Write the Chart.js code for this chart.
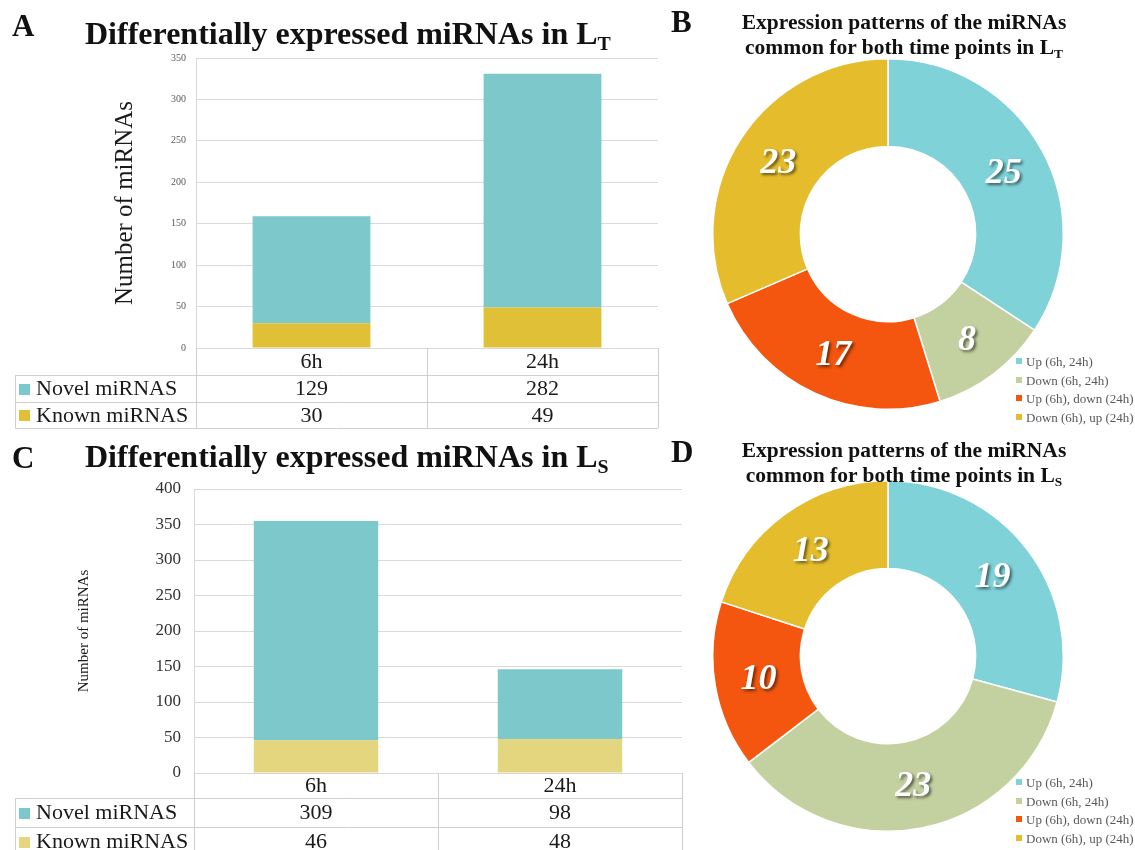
<!DOCTYPE html>
<html>
<head>
<meta charset="utf-8">
<script src="https://cdn.jsdelivr.net/npm/chart.js@4.4.1/dist/chart.umd.min.js"></script>
<style>
  body { margin: 0; background: #fff; width: 1135px; height: 850px; overflow: hidden; position: relative;
         font-family: "Liberation Serif", "Times New Roman", serif; color: #111; }
  .abs { position: absolute; z-index: 2; }
  .letter { font-weight: bold; font-size: 31px; line-height: 30px; }
  .btitle { font-weight: bold; font-size: 32px; line-height: 30px; white-space: nowrap; }
  .ptitle { font-weight: bold; font-size: 21.5px; line-height: 25px; text-align: center; white-space: nowrap; width: 400px; }
  sub { font-size: 0.62em; vertical-align: -0.28em; line-height: 0; }
  .legend { font-size: 13px; color: #595959; line-height: 18.5px; white-space: nowrap; }
  .legend .m { display: inline-block; width: 6px; height: 6px; margin-right: 4px; position: relative; top: -2px; }
  canvas { position: absolute; z-index: 1; }
</style>
</head>
<body>
<div class="abs letter" style="left:12px;top:11px">A</div>
<div class="abs btitle" style="left:85px;top:18px">Differentially expressed miRNAs in L<sub>T</sub></div>
<div class="abs letter" style="left:12px;top:443px">C</div>
<div class="abs btitle" style="left:85px;top:441px">Differentially expressed miRNAs in L<sub>S</sub></div>
<div class="abs letter" style="left:671px;top:7px">B</div>
<div class="abs ptitle" style="left:704px;top:10px">Expression patterns of the miRNAs<br>common for both time points in L<sub>T</sub></div>
<div class="abs letter" style="left:671px;top:437px">D</div>
<div class="abs ptitle" style="left:704px;top:438px">Expression patterns of the miRNAs<br>common for both time points in L<sub>S</sub></div>

<canvas id="barLT" width="660" height="432" style="left:0;top:0"></canvas>
<canvas id="barLS" width="684" height="420" style="left:0;top:430px"></canvas>
<canvas id="pieLT" width="352" height="352" style="left:712px;top:58px"></canvas>
<canvas id="pieLS" width="352" height="352" style="left:712px;top:480px"></canvas>
<div id="legLT" class="abs legend" style="left:1016px;top:353px"></div>
<div id="legLS" class="abs legend" style="left:1016px;top:774px"></div>

<script>
// ---- data ----
const timePoints = ['6h', '24h'];
const seriesNames = ['Novel miRNAS', 'Known miRNAS'];
const novelLT = [129, 282];
const knownLT = [30, 49];
const novelLS = [309, 98];
const knownLS = [46, 48];
const axisLT = { max: 350, step: 50 };
const axisLS = { max: 400, step: 50 };
const patternLabels = ['Up (6h, 24h)', 'Down (6h, 24h)', 'Up (6h), down (24h)', 'Down (6h), up (24h)'];
const patternsLT = [25, 8, 17, 23];
const patternsLS = [19, 23, 10, 13];

// ---- colours ----
const novelColor = '#7dc8ca';
const knownColorLT = '#e0c036';
const knownColorLS = '#e3d67e';
const patternColors = ['#7ed2d8', '#c3d0a0', '#f4560f', '#e5bd2c'];
const gridColor = '#d9d9d9';
const serif = '"Liberation Serif", "Times New Roman", serif';

Chart.defaults.animation = false;
Chart.defaults.devicePixelRatio = 1;

// Data table drawn under the x axis: header row with the categories,
// then one row per series with its colour key and values.
const dataTable = {
  id: 'dataTable',
  afterDraw(chart, args, o) {
    const ctx = chart.ctx;
    const a = chart.chartArea;
    const xs = chart.scales.x;
    const n = chart.data.labels.length;
    const catW = (a.right - a.left) / n;
    const y0 = a.bottom;
    const ys = [y0, y0 + o.headerH];
    o.rows.forEach(() => ys.push(ys[ys.length - 1] + o.rowH));
    const last = ys[ys.length - 1];
    const px = v => Math.round(v) + 0.5;

    ctx.save();
    ctx.strokeStyle = o.lineColor;
    ctx.lineWidth = 1;
    ctx.beginPath();
    for (let r = 1; r < ys.length; r++) {
      ctx.moveTo(o.left, px(ys[r])); ctx.lineTo(a.right, px(ys[r]));
    }
    for (let c = 0; c <= n; c++) {
      const x = px(a.left + c * catW);
      ctx.moveTo(x, y0); ctx.lineTo(x, last);
    }
    ctx.moveTo(px(o.left), ys[1]); ctx.lineTo(px(o.left), last);
    ctx.stroke();

    ctx.fillStyle = '#1a1a1a';
    ctx.font = o.fontSize + 'px ' + serif;
    ctx.textAlign = 'center';
    ctx.textBaseline = 'middle';
    chart.data.labels.forEach((lab, i) => {
      ctx.fillText(lab, xs.getPixelForValue(i), (ys[0] + ys[1]) / 2 + 1);
    });
    o.rows.forEach((row, r) => {
      const cy = (ys[r + 1] + ys[r + 2]) / 2 + 1;
      ctx.fillStyle = row.color;
      ctx.fillRect(o.left + 4, Math.round(cy - 5.5), 11, 11);
      ctx.fillStyle = '#1a1a1a';
      ctx.textAlign = 'left';
      ctx.fillText(row.name, o.left + 21, cy);
      ctx.textAlign = 'center';
      row.values.forEach((v, i) => ctx.fillText(String(v), xs.getPixelForValue(i), cy));
    });
    ctx.restore();
  }
};

function stackedBar(id, novel, known, knownColor, axis, s) {
  new Chart(document.getElementById(id), {
    type: 'bar',
    data: {
      labels: timePoints,
      datasets: [
        { label: seriesNames[1], data: known, backgroundColor: knownColor },
        { label: seriesNames[0], data: novel, backgroundColor: novelColor }
      ]
    },
    options: {
      responsive: false,
      layout: { padding: { left: s.padLeft, top: s.padTop, bottom: s.padBottom, right: 2 } },
      datasets: { bar: { barPercentage: 0.51, categoryPercentage: 1 } },
      plugins: {
        legend: { display: false },
        tooltip: { enabled: false },
        dataTable: {
          left: 15, headerH: s.headerH, rowH: s.rowH, fontSize: 22, lineColor: '#cfcfcf',
          rows: [
            { name: seriesNames[0], color: novelColor, values: novel },
            { name: seriesNames[1], color: knownColor, values: known }
          ]
        }
      },
      scales: {
        x: { stacked: true, display: false },
        y: {
          stacked: true, min: 0, max: axis.max,
          afterFit(scale) { scale.width = s.axisWidth; },
          border: { color: gridColor },
          grid: { color: gridColor, drawTicks: false },
          ticks: { stepSize: axis.step, padding: s.tickPad, color: s.tickColor,
                   font: { family: serif, size: s.tickSize } },
          title: { display: true, text: 'Number of miRNAs', color: '#1a1a1a',
                   font: { family: serif, size: s.titleSize } }
        }
      }
    },
    plugins: [dataTable]
  });
}

stackedBar('barLT', novelLT, knownLT, knownColorLT, axisLT,
  { padLeft: 106, padTop: 58, padBottom: 84, axisWidth: 90, tickPad: 10, tickColor: '#595959',
    tickSize: 10, titleSize: 25, headerH: 27, rowH: 26.5 });
stackedBar('barLS', novelLS, knownLS, knownColorLS, axisLS,
  { padLeft: 71, padTop: 59, padBottom: 77, axisWidth: 123, tickPad: 13, tickColor: '#333',
    tickSize: 17, titleSize: 15, headerH: 25, rowH: 29 });

// Value labels written on each ring segment.
const arcLabels = {
  id: 'arcLabels',
  afterDatasetsDraw(chart) {
    const ctx = chart.ctx;
    const values = chart.data.datasets[0].data;
    ctx.save();
    ctx.font = 'italic bold 36px ' + serif;
    ctx.textAlign = 'center';
    ctx.textBaseline = 'middle';
    ctx.fillStyle = '#fff';
    ctx.shadowColor = 'rgba(0,0,0,0.55)';
    ctx.shadowOffsetX = 2;
    ctx.shadowOffsetY = 2;
    ctx.shadowBlur = 3;
    chart.getDatasetMeta(0).data.forEach((arc, i) => {
      const p = arc.tooltipPosition();
      ctx.fillText(String(values[i]), p.x, p.y + 2);
    });
    ctx.restore();
  }
};

function ring(id, legendId, values) {
  new Chart(document.getElementById(id), {
    type: 'doughnut',
    data: {
      labels: patternLabels,
      datasets: [{ data: values, backgroundColor: patternColors, borderColor: '#fff', borderWidth: 1.5 }]
    },
    options: {
      responsive: false,
      cutout: '50%',
      plugins: { legend: { display: false }, tooltip: { enabled: false } }
    },
    plugins: [arcLabels]
  });
  const leg = document.getElementById(legendId);
  patternLabels.forEach((lab, i) => {
    const row = document.createElement('div');
    const m = document.createElement('span');
    m.className = 'm';
    m.style.background = patternColors[i];
    row.appendChild(m);
    row.appendChild(document.createTextNode(lab));
    leg.appendChild(row);
  });
}

ring('pieLT', 'legLT', patternsLT);
ring('pieLS', 'legLS', patternsLS);
</script>
</body>
</html>
